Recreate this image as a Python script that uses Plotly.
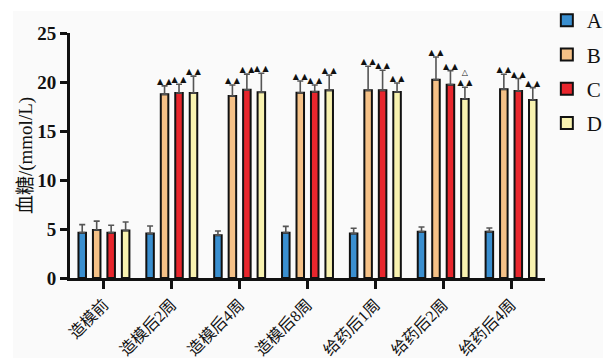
import plotly.graph_objects as go

categories = ["造模前", "造模后2周", "造模后4周", "造模后8周", "给药后1周", "给药后2周", "给药后4周"]
series_names = ["A", "B", "C", "D"]
colors = ["#3a8fd0", "#f5c187", "#e8262d", "#f8f2b0"]

A_vals = [4.63, 4.53, 4.36, 4.63, 4.53, 4.73, 4.73]
A_err = [0.82, 0.77, 0.44, 0.64, 0.54, 0.47, 0.37]
B_vals = [4.90, 18.74, 18.57, 18.90, 19.15, 20.24, 19.26]
B_err = [0.90, 0.86, 1.13, 1.20, 2.45, 2.31, 1.53]
C_vals = [4.63, 18.88, 19.20, 19.00, 19.15, 19.73, 19.08]
C_err = [0.75, 0.89, 1.60, 0.70, 2.05, 1.43, 1.27]
D_vals = [4.84, 18.88, 18.95, 19.15, 18.98, 18.27, 18.16]
D_err = [0.87, 1.72, 1.95, 1.55, 0.92, 1.19, 1.27]

A_mark = ["", "", "", "", "", "", ""]
B_mark = ["", "▲ ▲", "▲ ▲", "▲ ▲", "▲ ▲", "▲ ▲", "▲ ▲"]
C_mark = ["", "▲ ▲", "▲ ▲", "▲ ▲", "▲ ▲", "▲ ▲", "▲ ▲"]
D_mark = ["", "▲ ▲", "▲ ▲", "▲ ▲", "▲ ▲", "△<br>▲ ▲", "▲ ▲"]

vals = [A_vals, B_vals, C_vals, D_vals]
errs = [A_err, B_err, C_err, D_err]
marks = [A_mark, B_mark, C_mark, D_mark]

bargap = 0.147
n = len(series_names)
slot = (1 - bargap) / n
xs = list(range(len(categories)))

serif = "Liberation Serif, Noto Sans CJK SC, serif"

fig = go.Figure()
for j in range(n):
    fig.add_trace(go.Bar(
        x=xs, y=vals[j], name=series_names[j],
        marker=dict(color=colors[j], line=dict(color="#111111", width=2)),
        error_y=dict(type="data", symmetric=False, array=errs[j],
                     arrayminus=[0] * len(xs), color="#555555",
                     thickness=1.6, width=3),
        legendgroup=series_names[j],
    ))

for j in range(n):
    off = (j - (n - 1) / 2) * slot
    fig.add_trace(go.Scatter(
        x=[x + off for x in xs],
        y=[v + e for v, e in zip(vals[j], errs[j])],
        mode="text", text=marks[j], textposition="top center",
        textfont=dict(size=8, color="#111111", family="DejaVu Sans"),
        showlegend=False, hoverinfo="skip", cliponaxis=False,
    ))

fig.add_shape(type="rect", xref="paper", yref="paper",
              x0=-0.12, x1=1.122, y0=-0.33, y1=1.09,
              fillcolor="#fafafa", line=dict(width=0), layer="below")

fig.update_layout(
    width=611, height=358,
    margin=dict(l=70, r=66, t=33, b=80, autoexpand=False),
    paper_bgcolor="white", plot_bgcolor="rgba(0,0,0,0)",
    barmode="group", bargap=bargap, bargroupgap=0.48,
    showlegend=True,
    legend=dict(xref="container", yref="container", x=0.895, xanchor="left",
                y=1.0, yanchor="top",
                font=dict(family=serif, size=21, color="#111111"),
                tracegroupgap=4, bgcolor="rgba(0,0,0,0)"),
    font=dict(family=serif, color="#111111"),
)

fig.update_xaxes(
    range=[-0.5, len(categories) - 0.5],
    tickvals=xs, ticktext=categories, tickangle=-45,
    tickfont=dict(family=serif, size=16, color="#111111"),
    showline=True, linecolor="#111111", linewidth=3,
    ticks="outside", ticklen=8, tickwidth=3, tickcolor="#111111",
    showgrid=False, zeroline=False, automargin=False,
)
fig.update_yaxes(
    range=[0, 25], tickvals=[0, 5, 10, 15, 20, 25],
    tickfont=dict(family=serif, size=19, color="#111111", weight="bold"),
    showline=True, linecolor="#111111", linewidth=3,
    ticks="outside", ticklen=7, tickwidth=3, tickcolor="#111111",
    showgrid=False, zeroline=False, automargin=False,
    title=dict(text="血糖/(mmol/L)", font=dict(family=serif, size=19, color="#111111"), standoff=0),
)

fig.write_html("out.html", config={"displayModeBar": False},
               post_script="document.body.style.margin='0';")
